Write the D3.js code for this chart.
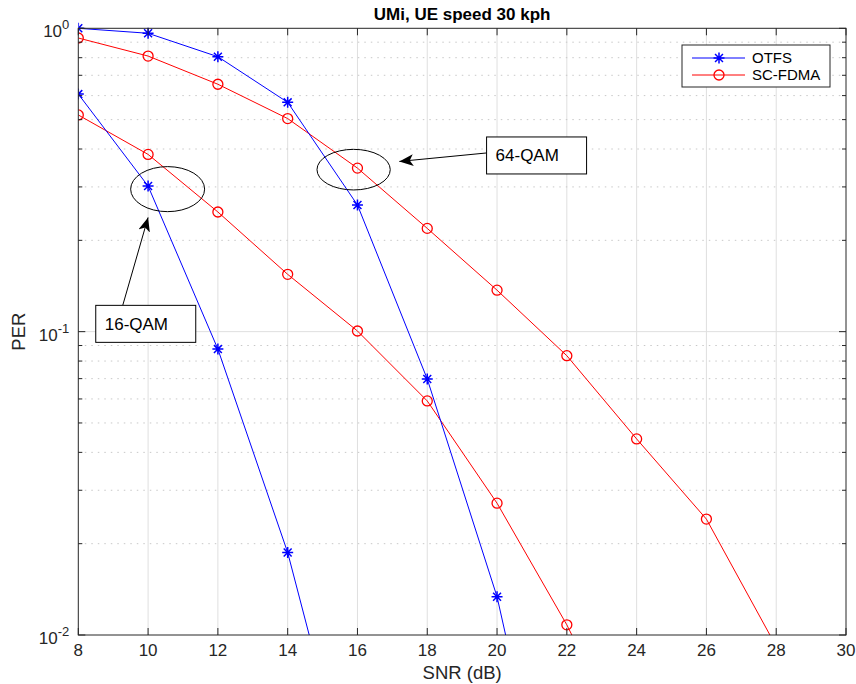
<!DOCTYPE html>
<html><head><meta charset="utf-8">
<script src="https://cdn.jsdelivr.net/npm/d3@7"></script>
<style>body{margin:0;background:#fff;} text{font-family:"Liberation Sans",Arial,Helvetica,sans-serif;}</style>
</head><body><svg id="c" width="856" height="684"></svg>
<script>
const snr = [8,10,12,14,16,18,20,22,24,26,28];
const otfs16 = [0.607,0.302,0.0876,0.0187,0.00246];
const scfdma16 = [0.518,0.384,0.248,0.1545,0.1005,0.0591,0.0272,0.0108,0.0037];
const otfs64 = [1.0,0.963,0.806,0.570,0.2615,0.0698,0.01337,0.00126];
const scfdma64 = [0.929,0.810,0.654,0.504,0.346,0.219,0.137,0.0833,0.0443,0.0241,0.00917];
const xTicks = [8,10,12,14,16,18,20,22,24,26,28,30];
const yTicks = [1,0.1,0.01];
const yTickLabels = ["0","-1","-2"];
const legendLabels = ["OTFS","SC-FDMA"];
const annotations = [
  {label:"16-QAM", ex:10.56, ey:0.295, rx:1.06, ry:0.055, bx:8.5, by:0.0922, tipx:10.0, tipy:0.238},
  {label:"64-QAM", ex:15.89, ey:0.342, rx:1.05, ry:0.057, bx:19.7, by:0.331, tipx:17.2, tipy:0.364}
];

const svg = d3.select("#c");
const L=78.3, R=846, T=28.3, B=635;
const x = d3.scaleLinear().domain([8,30]).range([L,R]);
const y = d3.scaleLog().domain([0.01,1]).range([B,T]);
const axisCol="#262626", gridCol="#dfdfdf";

// grid
const g = svg.append("g");
xTicks.forEach(t=>{ if(t>8&&t<30) g.append("line").attr("x1",x(t)).attr("x2",x(t)).attr("y1",T).attr("y2",B).attr("stroke",gridCol).attr("stroke-width",1); });
const minor=[];
[0.01,0.1].forEach(d=>{for(let k=2;k<=9;k++) minor.push(d*k);});
minor.forEach(v=>g.append("line").attr("x1",L).attr("x2",R).attr("y1",y(v)).attr("y2",y(v)).attr("stroke","#c8c8c8").attr("stroke-width",1).attr("stroke-dasharray","1.5,5"));
g.append("line").attr("x1",L).attr("x2",R).attr("y1",y(0.1)).attr("y2",y(0.1)).attr("stroke",gridCol);

// clip
svg.append("defs").append("clipPath").attr("id","clip").append("rect").attr("x",L).attr("y",T-8).attr("width",R-L).attr("height",B-T+8);
const plot = svg.append("g").attr("clip-path","url(#clip)");

const line = d3.line().x((d,i)=>x(snr[i])).y(d=>y(d));
function drawSeries(vals,color,marker){
  plot.append("path").attr("d",line(vals)).attr("fill","none").attr("stroke",color).attr("stroke-width",1);
  vals.forEach((v,i)=>{
    const px=x(snr[i]), py=y(v);
    if(py>B+3) return;
    if(marker==="o"){
      plot.append("circle").attr("cx",px).attr("cy",py).attr("r",5).attr("fill","none").attr("stroke",color).attr("stroke-width",1.3);
    } else {
      const a=5.5, b=a*0.72;
      plot.append("path").attr("d",`M${px-a},${py}L${px+a},${py}M${px},${py-a}L${px},${py+a}M${px-b},${py-b}L${px+b},${py+b}M${px-b},${py+b}L${px+b},${py-b}`).attr("stroke",color).attr("stroke-width",1.5);
    }
  });
}
drawSeries(scfdma16,"#ff0000","o");
drawSeries(scfdma64,"#ff0000","o");
drawSeries(otfs16,"#0000ff","*");
drawSeries(otfs64,"#0000ff","*");

// axes box
const ax = svg.append("g");
ax.append("rect").attr("x",L).attr("y",T).attr("width",R-L).attr("height",B-T).attr("fill","none").attr("stroke",axisCol).attr("stroke-width",1);
xTicks.forEach(t=>{
  ax.append("line").attr("x1",x(t)).attr("x2",x(t)).attr("y1",B).attr("y2",B-7).attr("stroke",axisCol);
  ax.append("line").attr("x1",x(t)).attr("x2",x(t)).attr("y1",T).attr("y2",T+7).attr("stroke",axisCol);
  ax.append("text").attr("x",x(t)).attr("y",B+21).attr("text-anchor","middle").attr("font-size",17).attr("fill",axisCol).text(t);
});
yTicks.forEach((t,i)=>{
  ax.append("line").attr("x1",L).attr("x2",L+7).attr("y1",y(t)).attr("y2",y(t)).attr("stroke",axisCol);
  ax.append("line").attr("x1",R).attr("x2",R-7).attr("y1",y(t)).attr("y2",y(t)).attr("stroke",axisCol);
  const tx=ax.append("text").attr("x",L-9).attr("y",y(t)+9).attr("text-anchor","end").attr("font-size",17).attr("fill",axisCol);
  tx.append("tspan").text("10");
  tx.append("tspan").attr("dy",-8).attr("font-size",13).text(yTickLabels[i]);
});
minor.forEach(v=>{
  ax.append("line").attr("x1",L).attr("x2",L+4).attr("y1",y(v)).attr("y2",y(v)).attr("stroke",axisCol);
  ax.append("line").attr("x1",R).attr("x2",R-4).attr("y1",y(v)).attr("y2",y(v)).attr("stroke",axisCol);
});

// labels
svg.append("text").attr("x",(L+R)/2).attr("y",20).attr("text-anchor","middle").attr("font-size",17).attr("font-weight","bold").attr("fill","#000").text("UMi, UE speed 30 kph");
svg.append("text").attr("x",(L+R)/2).attr("y",679).attr("text-anchor","middle").attr("font-size",18.5).attr("fill",axisCol).text("SNR (dB)");
svg.append("text").attr("transform",`translate(25,${(T+B)/2}) rotate(-90)`).attr("text-anchor","middle").attr("font-size",18.5).attr("fill",axisCol).text("PER");

// annotations
svg.append("defs").append("marker").attr("id","ah").attr("viewBox","0 0 12 10").attr("refX",12).attr("refY",5).attr("markerWidth",14).attr("markerHeight",12).attr("markerUnits","userSpaceOnUse").attr("orient","auto")
  .append("path").attr("d","M0,0L12,5L0,10L3,5Z").attr("fill","#000");
annotations.forEach(a=>{
  const cx=x(a.ex), cy=y(a.ey);
  const rx=x(a.ex+a.rx)-cx, ry=cy-y(a.ey+a.ry);
  svg.append("ellipse").attr("cx",cx).attr("cy",cy).attr("rx",rx).attr("ry",ry).attr("fill","none").attr("stroke","#000").attr("stroke-width",1);
  const bx=x(a.bx), by=y(a.by);
  const bw=100, bh=37;
  let sx, sy;
  if(a.label==="16-QAM"){ sx=bx+27; sy=by-bh; } else { sx=bx; sy=by-bh+16; }
  svg.append("line").attr("x1",sx).attr("y1",sy).attr("x2",x(a.tipx)).attr("y2",y(a.tipy)).attr("stroke","#000").attr("stroke-width",1).attr("marker-end","url(#ah)");
  svg.append("rect").attr("x",bx).attr("y",by-bh).attr("width",bw).attr("height",bh).attr("fill","#fff").attr("stroke","#000").attr("stroke-width",1);
  svg.append("text").attr("x",bx+9).attr("y",by-bh/2+6).attr("font-size",17).attr("fill","#000").text(a.label);
});

// legend
const lg = svg.append("g");
const lx=682, ly=45, lw=148, lh=42;
lg.append("rect").attr("x",lx).attr("y",ly).attr("width",lw).attr("height",lh).attr("fill","#fff").attr("stroke",axisCol).attr("stroke-width",1);
[["#0000ff","*"],["#ff0000","o"]].forEach((s,i)=>{
  const yy=ly+13+i*17;
  lg.append("line").attr("x1",lx+10).attr("x2",lx+63).attr("y1",yy).attr("y2",yy).attr("stroke",s[0]).attr("stroke-width",1);
  const px=lx+37;
  if(s[1]==="o") lg.append("circle").attr("cx",px).attr("cy",yy).attr("r",5).attr("fill","none").attr("stroke",s[0]).attr("stroke-width",1.3);
  else { const a=5.5,b=a*0.72; lg.append("path").attr("d",`M${px-a},${yy}L${px+a},${yy}M${px},${yy-a}L${px},${yy+a}M${px-b},${yy-b}L${px+b},${yy+b}M${px-b},${yy+b}L${px+b},${yy-b}`).attr("stroke",s[0]).attr("stroke-width",1.5); }
  lg.append("text").attr("x",lx+70).attr("y",yy+5).attr("font-size",15).attr("fill","#000").text(legendLabels[i]);
});
</script></body></html>
